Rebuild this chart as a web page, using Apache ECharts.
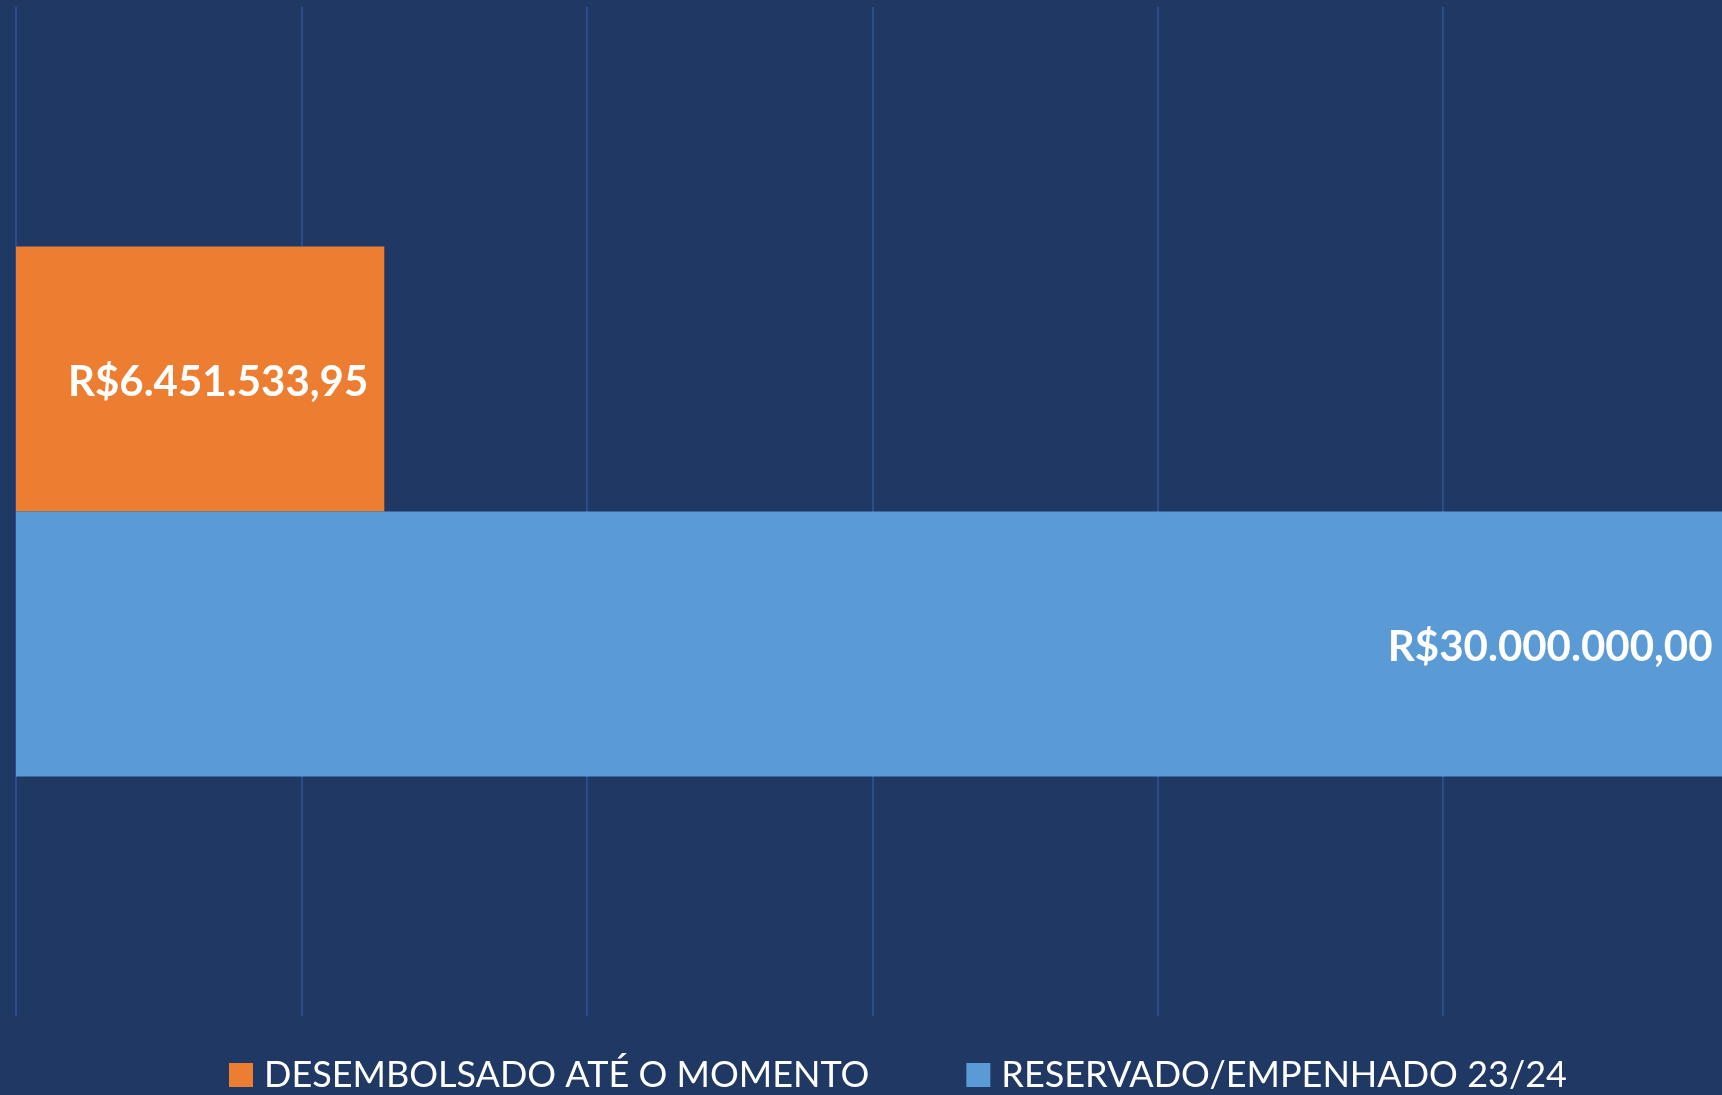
<!DOCTYPE html>
<html>
<head>
<meta charset="utf-8">
<script src="https://cdn.jsdelivr.net/npm/echarts@6/dist/echarts.min.js"></script>
<style>
  html, body { margin: 0; padding: 0; background: #203864; }
  #chart { width: 1722px; height: 1095px; }
</style>
</head>
<body>
<div id="chart"></div>
<script>
var categories = [""];
var seriesNames = ["DESEMBOLSADO ATÉ O MOMENTO", "RESERVADO/EMPENHADO 23/24"];
var desembolsado = [6451533.95];
var reservado = [30000000];
var seriesColors = ["#ED7D31", "#5B9BD5"];

function formatBRL(v) {
  var parts = v.toFixed(2).split(".");
  var intPart = parts[0].replace(/\B(?=(\d{3})+(?!\d))/g, ".");
  return "R$" + intPart + "," + parts[1];
}

var chartDom = document.getElementById("chart");
var myChart = echarts.init(chartDom);

var labelStyle = {
  show: true,
  position: "insideRight",
  distance: 16,
  offset: [0, 3],
  color: "#ffffff",
  fontFamily: "Lato",
  fontWeight: "bold",
  fontSize: 42,
  formatter: function (p) { return formatBRL(p.value); }
};

var option = {
  backgroundColor: "#203864",
  animation: false,
  grid: {
    left: 16,
    top: 7,
    width: 1998,
    height: 1009,
    containLabel: false,
    outerBoundsMode: "none"
  },
  legend: {
    data: seriesNames,
    left: 224,
    top: 1052,
    itemWidth: 24,
    itemHeight: 24,
    itemGap: 97,
    icon: "rect",
    textStyle: {
      color: "#ffffff",
      fontFamily: "Lato",
      fontSize: 36,
      padding: [0, 0, 0, 6]
    }
  },
  xAxis: {
    type: "value",
    min: 0,
    max: 35000000,
    interval: 5000000,
    axisLine: { show: false },
    axisTick: { show: false },
    axisLabel: { show: false },
    splitLine: { show: true, lineStyle: { color: "#2F5597", width: 1.5 } }
  },
  yAxis: {
    type: "category",
    inverse: true,
    data: categories,
    axisLine: { show: false },
    axisTick: { show: false },
    axisLabel: { show: false }
  },
  series: [
    {
      name: seriesNames[0],
      type: "bar",
      barWidth: 265,
      barGap: "0%",
      itemStyle: { color: seriesColors[0] },
      label: labelStyle,
      data: desembolsado
    },
    {
      name: seriesNames[1],
      type: "bar",
      barWidth: 265,
      barGap: "0%",
      itemStyle: { color: seriesColors[1] },
      label: labelStyle,
      data: reservado
    }
  ]
};

myChart.setOption(option);
window.addEventListener("resize", myChart.resize);
</script>
</body>
</html>
